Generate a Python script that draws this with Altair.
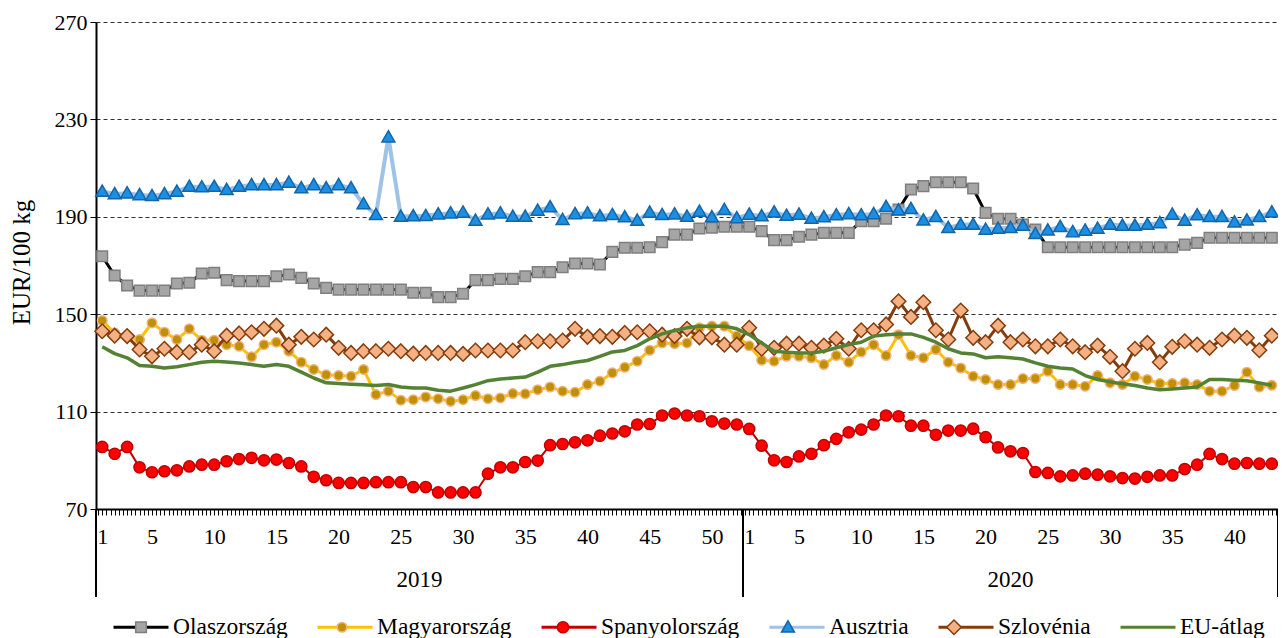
import altair as alt
import pandas as pd

# ---------------- data ----------------
weeks_2019 = list(range(1, 53))
weeks_2020 = list(range(1, 44))
label_weeks_2019 = [1, 5, 10, 15, 20, 25, 30, 35, 40, 45, 50]
label_weeks_2020 = [1, 5, 10, 15, 20, 25, 30, 35, 40]
years = ["2019", "2020"]
series_names = ["Olaszország", "Magyarország", "Spanyolország", "Ausztria", "Szlovénia", "EU-átlag"]

italy = [173.8, 165.9, 161.8, 159.7, 159.7, 159.7, 162.6, 162.9, 166.7, 167.0,
         164.0, 163.6, 163.6, 163.6, 165.6, 166.3, 164.9, 162.6, 160.8, 160.1,
         160.1, 160.1, 160.1, 160.1, 160.1, 158.8, 158.8, 157.0, 157.0, 158.4,
         164.0, 164.0, 164.5, 164.5, 165.6, 167.3, 167.3, 169.3, 170.8, 170.8,
         170.4, 175.6, 177.3, 177.3, 177.5, 179.6, 182.7, 182.7, 185.2, 185.5,
         185.9, 185.9,
         185.9, 184.1, 180.4, 180.4, 181.8, 182.7, 183.4, 183.4, 183.4, 188.2,
         188.2, 189.2, 193.0, 201.2, 202.6, 204.2, 204.2, 204.2, 201.6, 191.6,
         189.2, 189.2, 186.8, 184.8, 177.5, 177.5, 177.5, 177.5, 177.5, 177.5,
         177.5, 177.5, 177.5, 177.5, 177.5, 178.6, 179.3, 181.4, 181.4, 181.4,
         181.4, 181.4, 181.4]

hungary = [147.4, 142.3, 140.7, 139.6, 146.4, 142.6, 139.6, 144.0, 139.3, 139.3,
           137.5, 136.8, 132.5, 137.5, 138.5, 134.8, 130.3, 127.3, 125.1, 124.8,
           124.5, 127.3, 117.0, 118.4, 114.7, 114.9, 116.0, 115.3, 114.2, 114.9,
           116.6, 115.3, 115.6, 117.4, 117.3, 119.0, 120.1, 118.4, 117.9, 121.1,
           122.5, 125.9, 128.2, 130.7, 135.2, 138.2, 137.9, 138.2, 144.4, 145.1,
           145.1, 141.0,
           137.0, 131.1, 130.7, 132.7, 132.7, 132.1, 129.3, 133.0, 130.3, 134.5,
           137.5, 133.0, 141.6, 133.0, 132.1, 135.5, 130.3, 127.9, 124.5, 123.2,
           121.1, 121.1, 123.6, 123.6, 126.6, 121.1, 121.1, 120.4, 124.8, 121.8,
           121.1, 124.5, 123.2, 121.5, 121.5, 121.8, 121.1, 118.4, 118.4, 120.7,
           126.2, 120.1, 120.8]

spain = [95.5, 92.7, 95.5, 87.1, 85.1, 85.5, 85.9, 87.5, 88.2, 88.2,
         89.6, 90.5, 91.0, 90.0, 90.3, 88.9, 87.5, 83.2, 81.8, 80.7,
         80.7, 80.7, 81.0, 81.0, 81.0, 79.0, 79.0, 76.8, 76.8, 76.8,
         76.8, 84.5, 87.1, 87.1, 89.3, 89.9, 96.2, 96.7, 97.4, 98.2,
         100.1, 101.0, 101.9, 104.7, 104.9, 108.4, 109.2, 108.4, 108.1, 106.0,
         105.1, 104.7,
         102.9, 96.0, 90.0, 89.3, 91.6, 92.7, 96.2, 98.8, 101.5, 102.6,
         104.7, 108.4, 108.1, 104.2, 104.2, 100.5, 102.2, 102.2, 103.0, 99.5,
         95.3, 93.7, 93.0, 85.2, 84.8, 83.4, 83.8, 84.5, 84.1, 83.4,
         82.7, 82.5, 83.2, 83.8, 83.8, 86.4, 88.2, 92.6, 90.5, 88.6,
         88.9, 88.6, 88.6]

austria = [200.4, 199.4, 199.7, 199.0, 198.6, 199.4, 200.4, 202.4, 202.2, 202.4,
           201.1, 202.4, 203.1, 203.1, 203.1, 204.1, 201.8, 203.1, 201.8, 203.1,
           201.8, 195.3, 190.8, 222.7, 190.1, 190.3, 190.4, 191.1, 191.5, 191.8,
           188.5, 191.1, 191.5, 190.1, 190.1, 192.6, 194.0, 188.8, 191.2, 191.5,
           190.3, 190.8, 189.9, 188.5, 191.8, 190.8, 191.1, 190.1, 192.2, 189.9,
           192.9, 189.5,
           191.0, 190.3, 191.9, 190.5, 191.0, 189.3, 189.9, 190.7, 191.2, 190.7,
           191.2, 194.1, 192.7, 193.3, 188.6, 190.0, 185.5, 186.8, 186.8, 184.8,
           185.2, 185.5, 186.4, 183.0, 184.5, 185.9, 183.8, 184.4, 185.2, 186.8,
           186.4, 186.4, 186.8, 187.5, 191.0, 188.5, 190.7, 190.0, 190.0, 187.8,
           188.6, 190.0, 191.9]

slovenia = [143.0, 141.2, 141.0, 135.5, 132.7, 135.8, 134.4, 134.4, 137.5, 134.8,
            141.2, 142.1, 142.6, 144.0, 145.3, 137.5, 140.7, 139.6, 141.6, 136.2,
            134.1, 134.8, 134.8, 135.8, 134.8, 133.8, 134.1, 134.1, 134.1, 133.7,
            135.1, 135.1, 135.1, 135.1, 138.5, 138.9, 138.9, 139.2, 144.0, 140.7,
            141.0, 140.7, 142.3, 142.6, 143.0, 141.6, 141.0, 144.0, 140.5, 140.5,
            137.5, 137.5,
            144.4, 135.8, 136.2, 137.9, 137.9, 136.2, 137.1, 139.9, 135.8, 143.4,
            143.4, 145.8, 155.3, 148.9, 154.9, 143.4, 139.6, 151.5, 140.3, 138.5,
            145.3, 138.5, 139.6, 136.8, 136.8, 139.6, 136.8, 134.4, 137.1, 132.5,
            126.6, 135.8, 138.2, 130.3, 136.6, 138.9, 137.5, 136.2, 139.6, 141.2,
            140.3, 135.2, 141.2]

eu = [136.6, 133.8, 132.1, 128.9, 128.6, 127.9, 128.4, 129.3, 130.3, 130.7,
      130.4, 130.0, 129.3, 128.6, 129.3, 128.6, 126.2, 123.8, 121.8, 121.5,
      121.2, 121.0, 120.7, 121.1, 120.1, 119.7, 119.7, 118.8, 118.4, 119.7,
      121.1, 122.7, 123.4, 123.8, 124.2, 126.2, 128.6, 129.3, 130.3, 131.0,
      132.7, 134.5, 135.1, 137.1, 139.9, 141.9, 143.3, 144.4, 145.1, 145.1,
      145.1, 144.0,
      141.6, 138.2, 134.8, 134.4, 134.1, 134.1, 134.8, 136.2, 137.5, 138.5,
      141.0, 141.6, 141.9, 141.9, 140.5, 138.5, 135.8, 134.1, 133.7, 132.1,
      132.5, 132.1, 131.6, 130.0, 128.6, 127.9, 127.5, 124.8, 123.2, 122.2,
      121.4, 120.7, 119.7, 119.0, 119.3, 119.7, 120.1, 123.2, 123.2, 122.9,
      122.7, 121.8, 120.8]

y_ticks = [70, 110, 150, 190, 230, 270]

# ---------------- build tables ----------------
n19, n20 = len(weeks_2019), len(weeks_2020)
n = n19 + n20
idx = list(range(1, n + 1))
all_values = [italy, hungary, spain, austria, slovenia, eu]
rows = []
for name, vals in zip(series_names, all_values):
    for i, v in zip(idx, vals):
        rows.append({"idx": i, "series": name, "value": v})
df = pd.DataFrame(rows)

year_df = pd.DataFrame({"year": years,
                        "center": [(1 + n19) / 2, n19 + (1 + n20) / 2]})
sep_df = pd.DataFrame({"pos": [0.5, n19 + 0.5, n + 0.5]})

labeled_idx = label_weeks_2019 + [n19 + w for w in label_weeks_2020]
tick_vals = []
for i in idx:
    tick_vals += [round(i - 1 / 3, 4), i, round(i + 1 / 3, 4)]

label_expr = (
    "abs(datum.value - round(datum.value)) < 0.01 && indexof(%s, round(datum.value)) >= 0 ? "
    "'' + (round(datum.value) > %d ? round(datum.value) - %d : round(datum.value)) : ''"
    % (str(labeled_idx), n19, n19)
)

# ---------------- styles ----------------
FONT = "Liberation Serif"
line_colors = ["#000000", "#FFC000", "#C00000", "#9DC3E6", "#843C0C", "#548235"]
line_widths = [3, 3, 2, 4, 3, 3.5]
marker_series = series_names[:5]
marker_fill = ["#A5A5A5", "#BF9000", "#FF0000", "#1A8FE3", "#F4B183"]
marker_stroke = ["#7F7F7F", "#F4B183", "#C00000", "#1565A8", "#843C0C"]
EXT = "M-1,0M1,0"
marker_shapes = [
    EXT + "M-0.19,-0.19H0.19V0.19H-0.19Z",
    EXT + "M-0.17,0A0.17,0.17,0,1,1,0.17,0A0.17,0.17,0,1,1,-0.17,0Z",
    EXT + "M-0.2,0A0.2,0.2,0,1,1,0.2,0A0.2,0.2,0,1,1,-0.2,0Z",
    EXT + "M0,-0.23L0.23,0.17L-0.23,0.17Z",
    EXT + "M0,-0.26L0.26,0L0,0.26L-0.26,0Z",
]

W, H = 1182, 487
xscale = alt.Scale(domain=[0.5, n + 0.5], nice=False, zero=False)
yscale = alt.Scale(domain=[y_ticks[0], y_ticks[-1]], nice=False, zero=False)

x_axis = alt.Axis(values=tick_vals, labelExpr=label_expr, grid=False, tickSize=6,
                  tickColor="black", tickWidth=1, domainColor="black", domainWidth=2,
                  labelFont=FONT, labelFontSize=22, labelColor="black", labelPadding=11,
                  labelOverlap=False, labelFlush=False, labelAngle=0, title=None)
y_axis = alt.Axis(values=y_ticks, grid=True, gridDash=[4, 3], gridColor="#303030",
                  gridWidth=1, tickSize=6, tickColor="black", tickWidth=1,
                  domainColor="black", domainWidth=2, labelFont=FONT, labelFontSize=22,
                  labelColor="black", labelPadding=3, title="EUR/100 kg",
                  titleFont=FONT, titleFontSize=25, titleFontWeight="normal",
                  titleColor="black", titleX=-67, titleY=240, titleAngle=270,
                  titleBaseline="alphabetic", titleAlign="center")

LEG_X, LEG_Y = 16, 576
common_leg = dict(title=None, orient="none", legendX=LEG_X, legendY=LEG_Y,
                  direction="horizontal", labelFont=FONT, labelFontSize=23.5,
                  labelOffset=3, columnPadding=23, padding=0, labelLimit=400,
                  symbolOpacity=1)
line_legend = alt.Legend(symbolType="stroke", symbolSize=3025, symbolStrokeWidth=3,
                         labelColor="black", **common_leg)
marker_legend = alt.Legend(symbolSize=3136, symbolStrokeWidth=1.5, labelOpacity=0,
                           labelColor="black", **common_leg)

X_ENC = alt.X("idx:Q", scale=xscale, axis=x_axis)
Y_ENC = alt.Y("value:Q", scale=yscale, axis=y_axis)

base = alt.Chart(df)
layers = []
for k, name in enumerate(series_names):
    line = base.transform_filter(alt.datum.series == name).mark_line(
        strokeWidth=line_widths[k], strokeJoin="round", opacity=1
    ).encode(
        x=X_ENC, y=Y_ENC,
        color=alt.Color("series:N", scale=alt.Scale(domain=series_names, range=line_colors),
                        legend=line_legend),
    )
    layers.append(line)
    if name in marker_series:
        pts = base.transform_filter(alt.datum.series == name).mark_point(
            filled=True, opacity=1, size=3136, strokeWidth=1.5
        ).encode(
            x=X_ENC, y=Y_ENC,
            fill=alt.Fill("series:N", scale=alt.Scale(domain=marker_series, range=marker_fill),
                          legend=marker_legend),
            stroke=alt.Stroke("series:N", scale=alt.Scale(domain=marker_series, range=marker_stroke),
                              legend=marker_legend),
            shape=alt.Shape("series:N", scale=alt.Scale(domain=marker_series, range=marker_shapes),
                            legend=marker_legend),
        )
        layers.append(pts)

year_text = alt.Chart(year_df).mark_text(
    font=FONT, fontSize=23, baseline="alphabetic", align="center", color="black"
).encode(
    x=alt.X("center:Q", scale=xscale, axis=x_axis),
    y=alt.value(H + 78),
    text="year:N",
)
seps = alt.Chart(sep_df).mark_rule(color="black", strokeWidth=2).encode(
    x=alt.X("pos:Q", scale=xscale, axis=x_axis),
    y=alt.value(H),
    y2=alt.value(H + 88),
)
layers += [year_text, seps]

chart = alt.layer(*layers).properties(
    width=W, height=H,
    padding={"left": 88, "top": 14, "right": 0, "bottom": 129},
    autosize=alt.AutoSizeParams(type="none"),
).configure(background="white").configure_view(stroke=None)

chart.save("out.html", embed_options={"renderer": "svg", "actions": False})
